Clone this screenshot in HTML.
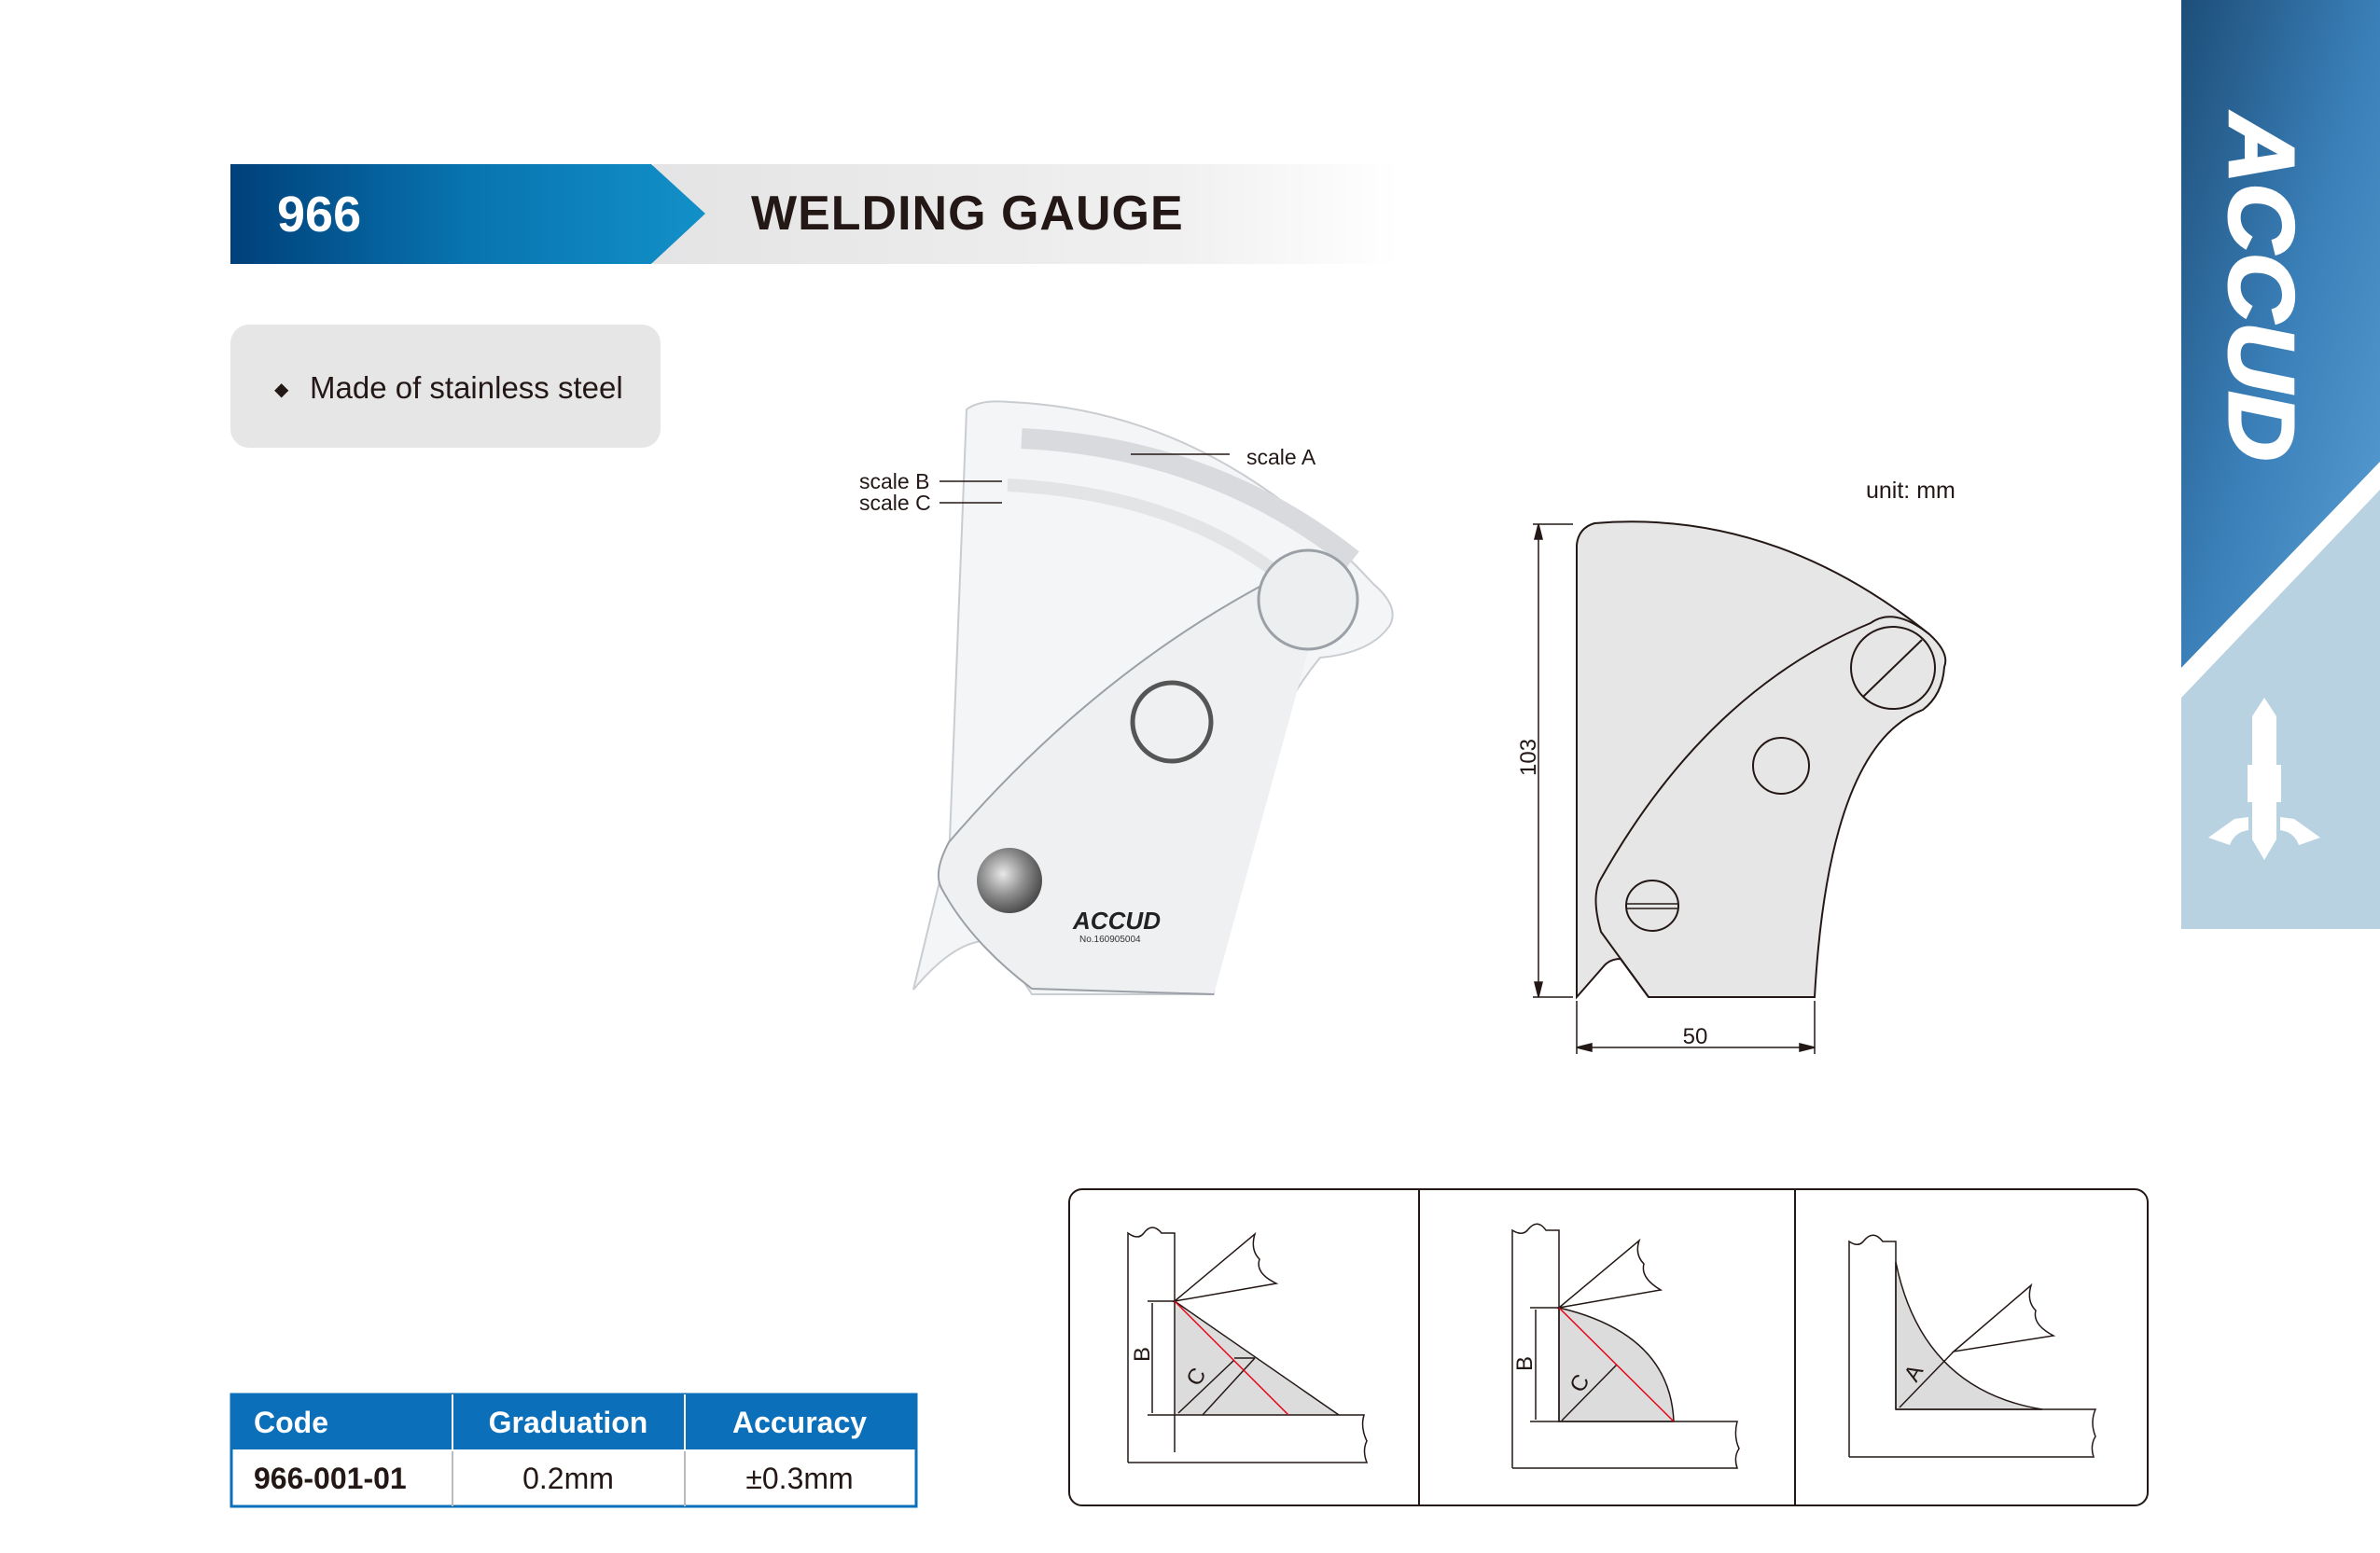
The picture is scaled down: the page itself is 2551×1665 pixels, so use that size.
<!DOCTYPE html>
<html><head><meta charset="utf-8"><style>
html,body{margin:0;padding:0;background:#fff}
body{width:2551px;height:1665px;position:relative;overflow:hidden;font-family:"Liberation Sans",Arial,sans-serif}
.abs{position:absolute}
</style></head><body>
<svg class="abs" style="left:0;top:0" width="2551" height="1665" viewBox="0 0 2551 1665">
<defs>
<linearGradient id="hb" x1="0" x2="1"><stop offset="0" stop-color="#00407a"/><stop offset="0.5" stop-color="#0874b0"/><stop offset="1" stop-color="#1390c8"/></linearGradient>
<linearGradient id="hg" x1="0" x2="1"><stop offset="0" stop-color="#e4e4e5"/><stop offset="0.7" stop-color="#f0f0f0"/><stop offset="1" stop-color="#ffffff"/></linearGradient>
<linearGradient id="band" x1="0" y1="0" x2="1" y2="1"><stop offset="0" stop-color="#1d4e78"/><stop offset="0.5" stop-color="#3a7fb8"/><stop offset="1" stop-color="#5aa0d4"/></linearGradient>
<radialGradient id="screw" cx="0.4" cy="0.4" r="0.7"><stop offset="0" stop-color="#e8e8e8"/><stop offset="0.5" stop-color="#8a8a8a"/><stop offset="1" stop-color="#3a3a3a"/></radialGradient>
</defs>
<rect x="700" y="176" width="800" height="107" fill="url(#hg)"/>
<polygon points="247,176 698,176 756,229 698,283 247,283" fill="url(#hb)"/>
<text x="297" y="248" font-size="54" font-weight="bold" fill="#fff">966</text>
<text x="805" y="246" font-size="52" font-weight="bold" fill="#231815" letter-spacing="1">WELDING GAUGE</text>
<rect x="247" y="348" width="461" height="132" rx="20" fill="#e6e6e7"/>
<text x="294" y="424" font-size="20" fill="#231815">◆</text>
<text x="332" y="427" font-size="33" fill="#231815">Made of stainless steel</text>
<rect x="2338" y="0" width="213" height="996" fill="#b9d2e2"/>
<polygon points="2338,0 2551,0 2551,495 2338,716" fill="url(#band)"/>
<polygon points="2338,716 2551,495 2551,525 2338,748" fill="#fff"/>
<text transform="translate(2390,122) rotate(90)" font-size="98" font-weight="bold" font-style="italic" fill="#fff" stroke="#fff" stroke-width="3" textLength="372" lengthAdjust="spacingAndGlyphs">ACCUD</text>
<g fill="#fff">
<polygon points="2427,748 2440,768 2440,900 2427,922 2414,900 2414,768"/>
<rect x="2409" y="820" width="12" height="40"/><rect x="2433" y="820" width="12" height="40"/>
<path d="M2367,898 L2395,878 L2410,876 L2410,890 Q2395,892 2390,906 Z"/>
<path d="M2487,898 L2459,878 L2444,876 L2444,890 Q2459,892 2464,906 Z"/>
</g>
<g>
<path d="M1036,439 Q1050,428 1082,431 Q1300,440 1472,626 Q1500,650 1490,670 Q1470,700 1415,705 Q1320,820 1301,1066 L1106,1066 L1070,1010 Q1030,1000 979,1061 L1018,900 Z" fill="#f4f5f6" stroke="#c9ccd0" stroke-width="2"/>
<path d="M1432,589 Q1200,690 1017,903 Q1000,935 1009,952 Q1040,1010 1106,1060 L1301,1066" fill="#eef0f2" stroke="#9aa0a6" stroke-width="2"/>
<path d="M1095,470 Q1300,480 1450,600" fill="none" stroke="#d8dadd" stroke-width="22"/>
<path d="M1080,520 Q1280,530 1400,640" fill="none" stroke="#e2e4e6" stroke-width="14"/>
<circle cx="1402" cy="643" r="53" fill="#eceef0" stroke="#9aa0a6" stroke-width="3"/>
<circle cx="1256" cy="774" r="42" fill="none" stroke="#555" stroke-width="5"/>
<circle cx="1082" cy="944" r="35" fill="url(#screw)"/>
<text x="1150" y="996" font-size="26" font-weight="bold" font-style="italic" fill="#222" textLength="94" lengthAdjust="spacingAndGlyphs">ACCUD</text>
<text x="1157" y="1010" font-size="10" fill="#333">No.160905004</text>
</g>
<g stroke="#231815" stroke-width="1.5"><line x1="1212" y1="487" x2="1318" y2="487"/><line x1="1007" y1="516" x2="1074" y2="516"/><line x1="1007" y1="539" x2="1074" y2="539"/></g>
<g font-size="23" fill="#231815"><text x="1336" y="498">scale A</text><text x="921" y="524">scale B</text><text x="921" y="547">scale C</text></g>
<text x="2000" y="534" font-size="25" fill="#231815">unit: mm</text>
<path d="M1690,1069 L1690,584 Q1692,566 1709,561 Q1900,545 2068,680 Q2090,700 2084,715 Q2082,745 2061,761 Q1960,800 1945,1069 L1767,1069 L1737,1028 Q1725,1028 1718,1037 Z" fill="#e6e6e6" stroke="#231815" stroke-width="2"/>
<path d="M2068,680 Q2030,650 2005,668 Q1830,740 1716,942 Q1705,960 1716,999 L1767,1069" fill="none" stroke="#231815" stroke-width="2"/>
<ellipse cx="2029" cy="716" rx="45" ry="44" fill="#e6e6e6" stroke="#231815" stroke-width="2"/>
<line x1="1997" y1="747" x2="2060" y2="686" stroke="#231815" stroke-width="2"/>
<circle cx="1909" cy="821" r="30" fill="#e6e6e6" stroke="#231815" stroke-width="2"/>
<ellipse cx="1771" cy="971" rx="28" ry="27" fill="#e6e6e6" stroke="#231815" stroke-width="2"/>
<line x1="1743" y1="969" x2="1799" y2="969" stroke="#231815" stroke-width="1.5"/><line x1="1743" y1="974" x2="1799" y2="974" stroke="#231815" stroke-width="1.5"/>
<g stroke="#231815" stroke-width="1.5" fill="#231815">
<line x1="1643" y1="562" x2="1686" y2="562"/><line x1="1643" y1="1069" x2="1686" y2="1069"/>
<line x1="1649" y1="562" x2="1649" y2="1069"/>
<polygon points="1649,562 1645,578 1653,578"/><polygon points="1649,1069 1645,1053 1653,1053"/>
<line x1="1690" y1="1073" x2="1690" y2="1130"/><line x1="1945" y1="1073" x2="1945" y2="1130"/>
<line x1="1690" y1="1123" x2="1945" y2="1123"/>
<polygon points="1690,1123 1706,1119 1706,1127"/><polygon points="1945,1123 1929,1119 1929,1127"/>
</g>
<text transform="translate(1646,812) rotate(-90)" font-size="24" fill="#231815" text-anchor="middle">103</text>
<text x="1817" y="1119" font-size="24" fill="#231815" text-anchor="middle">50</text>
<rect x="1146" y="1275" width="1156" height="339" rx="14" fill="#fff" stroke="#231815" stroke-width="2"/>
<line x1="1521" y1="1275" x2="1521" y2="1614" stroke="#231815" stroke-width="2"/>
<line x1="1924" y1="1275" x2="1924" y2="1614" stroke="#231815" stroke-width="2"/>
<g fill="none" stroke="#231815" stroke-width="1.5">
<polygon points="1259,1395 1259,1517 1435,1517" fill="#dcdcdc" stroke="none"/>
<path d="M1209,1568 L1209,1322 Q1220,1330 1226,1322 Q1235,1310 1245,1322 L1259,1322 L1259,1557"/>
<path d="M1259,1517 L1462,1517 Q1458,1530 1465,1545 Q1460,1555 1465,1568 L1209,1568"/>
<line x1="1259" y1="1395" x2="1435" y2="1517"/>
<path d="M1259,1395 L1345,1323 Q1340,1340 1350,1350 Q1345,1365 1368,1376 Z"/>
<line x1="1289" y1="1517" x2="1345" y2="1456"/><line x1="1323" y1="1456" x2="1345" y2="1456"/>
<line x1="1230" y1="1395" x2="1259" y2="1395"/><line x1="1230" y1="1517" x2="1259" y2="1517"/>
<line x1="1235" y1="1397" x2="1235" y2="1515"/>
<line x1="1263" y1="1515" x2="1323" y2="1458"/>
<path d="M1671,1402 Q1790,1430 1794,1524 L1671,1524 Z" fill="#dcdcdc"/>
<path d="M1621,1574 L1621,1319 Q1632,1326 1638,1318 Q1648,1306 1657,1319 L1671,1319 L1671,1524"/>
<path d="M1671,1524 L1862,1524 Q1858,1540 1864,1553 Q1858,1562 1862,1574 L1621,1574"/>
<path d="M1671,1402 L1757,1330 Q1752,1345 1762,1355 Q1758,1370 1780,1383 Z"/>
<line x1="1640" y1="1402" x2="1671" y2="1402"/><line x1="1640" y1="1524" x2="1671" y2="1524"/>
<line x1="1646" y1="1404" x2="1646" y2="1522"/>
<line x1="1674" y1="1523" x2="1733" y2="1463"/>
<path d="M2032,1353 Q2060,1490 2189,1511 L2032,1511 Z" fill="#dcdcdc"/>
<path d="M1982,1562 L1982,1331 Q1992,1338 1998,1330 Q2008,1318 2018,1331 L2032,1331 L2032,1511"/>
<path d="M2032,1511 L2246,1511 Q2240,1525 2246,1540 Q2240,1550 2244,1562 L1982,1562"/>
<path d="M2094,1449 L2177,1378 Q2172,1395 2182,1405 Q2178,1420 2201,1432 Z"/>
<line x1="2036" y1="1509" x2="2094" y2="1449"/>
</g>
<g stroke="#e60012" stroke-width="1.5"><line x1="1259" y1="1395" x2="1381" y2="1517"/><line x1="1671" y1="1402" x2="1794" y2="1524"/></g>
<g font-size="24" fill="#231815">
<text transform="translate(1232,1452) rotate(-90)" text-anchor="middle">B</text>
<text transform="translate(1289,1480) rotate(-60)" text-anchor="middle">C</text>
<text transform="translate(1642,1462) rotate(-90)" text-anchor="middle">B</text>
<text transform="translate(1700,1487) rotate(-60)" text-anchor="middle">C</text>
<text transform="translate(2058,1476) rotate(-60)" text-anchor="middle">A</text>
</g>
<rect x="248" y="1495" width="734" height="120" fill="#fff" stroke="#0b6fba" stroke-width="3"/>
<rect x="248" y="1495" width="734" height="59" fill="#0b6fba"/>
<line x1="485" y1="1495" x2="485" y2="1615" stroke="#fff" stroke-width="2"/>
<line x1="734" y1="1495" x2="734" y2="1615" stroke="#fff" stroke-width="2"/>
<line x1="485" y1="1556" x2="485" y2="1615" stroke="#bbb" stroke-width="2"/>
<line x1="734" y1="1556" x2="734" y2="1615" stroke="#bbb" stroke-width="2"/>
<g font-size="32" font-weight="bold" fill="#fff"><text x="272" y="1536">Code</text><text x="609" y="1536" text-anchor="middle">Graduation</text><text x="857" y="1536" text-anchor="middle">Accuracy</text></g>
<g font-size="32" fill="#231815"><text x="272" y="1596" font-weight="bold">966-001-01</text><text x="609" y="1596" text-anchor="middle">0.2mm</text><text x="857" y="1596" text-anchor="middle">±0.3mm</text></g>
</svg>
</body></html>
